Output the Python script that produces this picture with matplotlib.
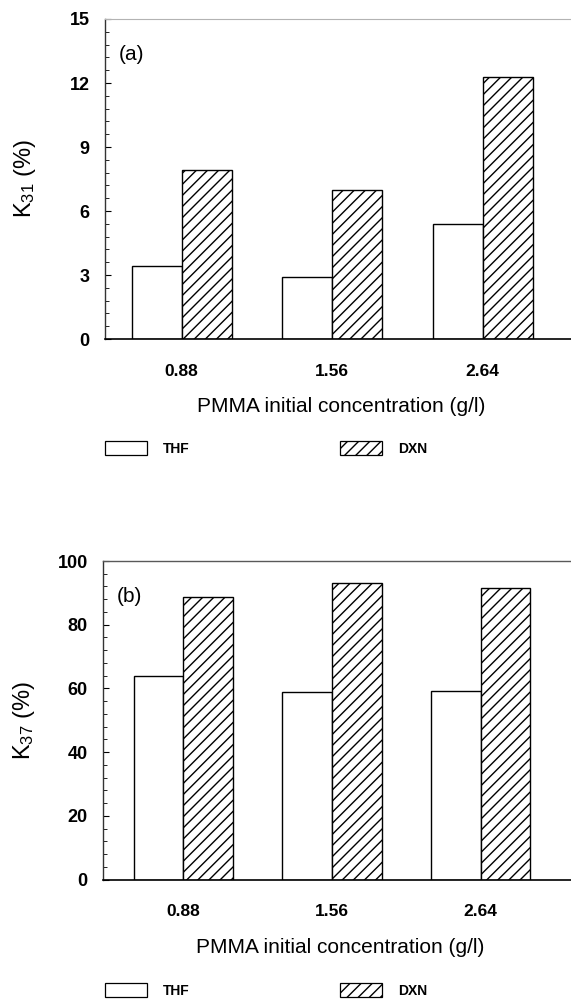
import numpy as np
import matplotlib
matplotlib.use("Agg")
import matplotlib.pyplot as plt
from matplotlib.patches import Patch
from matplotlib.ticker import MultipleLocator, AutoMinorLocator

# PMMA initial concentrations (g/l)
concentrations = ["0.88", "1.56", "2.64"]
solvents = ["THF", "DXN"]

# (a) K31 (%)
k31_thf = [3.4, 2.9, 5.4]
k31_dxn = [7.9, 7.0, 12.3]

# (b) K37 (%)
k37_thf = [63.8, 58.9, 59.1]
k37_dxn = [88.8, 93.2, 91.4]

plt.rcParams["font.family"] = ["Liberation Sans", "DejaVu Sans"]
plt.rcParams["mathtext.fontset"] = "custom"
plt.rcParams["mathtext.rm"] = "Liberation Sans"
plt.rcParams["mathtext.it"] = "Liberation Sans:italic"
plt.rcParams["hatch.linewidth"] = 1.0

W = 571
H = 1001
width = 0.333


def draw_panel(ax, thf, dxn, ylab, tag, ymax, ystep, xlim, ylab_x, xlab_y):
    x = np.arange(len(concentrations))
    ax.bar(x - width / 2, thf, width, color="white", edgecolor="black", linewidth=1.0)
    ax.bar(x + width / 2, dxn, width, color="white", edgecolor="black",
           linewidth=1.0, hatch="///")
    ax.set_xlim(*xlim)
    ax.set_ylim(0, ymax)

    ax.yaxis.set_major_locator(MultipleLocator(ystep))
    ax.yaxis.set_minor_locator(AutoMinorLocator(5))
    ax.tick_params(axis="y", which="major", direction="in", length=4.5,
                   width=0.8, pad=11, labelsize=13)
    ax.tick_params(axis="y", which="minor", direction="in", length=3, width=0.6)
    ax.set_xticks(x)
    ax.set_xticklabels(concentrations)
    ax.tick_params(axis="x", length=0, pad=18, labelsize=12.5)
    for lbl in ax.get_xticklabels() + ax.get_yticklabels():
        lbl.set_fontweight("bold")

    ax.spines["right"].set_visible(False)
    ax.spines["left"].set_color("0.2")
    ax.spines["left"].set_linewidth(1.0)
    ax.spines["bottom"].set_linewidth(1.2)

    ax.set_ylabel(ylab, fontsize=17)
    ax.yaxis.label.set_va("center")
    ax.yaxis.set_label_coords(ylab_x, 0.5)
    ax.set_xlabel("PMMA initial concentration (g/l)", fontsize=15)
    ax.xaxis.label.set_va("center")
    ax.xaxis.set_label_coords(0.507, xlab_y)

    ax.text(0.03, 0.89, tag, transform=ax.transAxes, fontsize=15,
            ha="left", va="center")


def add_legend(ax, x0, y0):
    handles = [
        Patch(facecolor="white", edgecolor="black", linewidth=0.9, label=solvents[0]),
        Patch(facecolor="white", edgecolor="black", linewidth=0.9, hatch="///",
              label=solvents[1]),
    ]
    leg = ax.legend(handles=handles, ncol=2, loc="upper left",
                    bbox_to_anchor=(x0 / W, 1 - y0 / H),
                    bbox_transform=ax.figure.transFigure, frameon=False,
                    borderpad=0, borderaxespad=0, handlelength=3.0,
                    handleheight=1.2, handletextpad=1.2, columnspacing=10.8,
                    prop={"size": 10, "weight": "bold"})
    return leg


fig = plt.figure(figsize=(W / 100, H / 100), dpi=100)

ax_a = fig.add_axes([105 / W, 1 - 339 / H, 1 - 105 / W, 320 / H])
draw_panel(ax_a, k31_thf, k31_dxn, r"K$_{31}$ (%)", "(a)", 15, 3,
           (-0.51, 2.587), -0.172, -0.212)
ax_a.spines["top"].set_color("0.7")
ax_a.spines["top"].set_linewidth(0.8)
add_legend(ax_a, 105, 441)

ax_b = fig.add_axes([103 / W, 1 - 879.5 / H, 1 - 103 / W, 318.5 / H])
draw_panel(ax_b, k37_thf, k37_dxn, r"K$_{37}$ (%)", "(b)", 100, 20,
           (-0.54, 2.607), -0.168, -0.215)
ax_b.spines["top"].set_color("0.35")
ax_b.spines["top"].set_linewidth(1.0)
add_legend(ax_b, 105, 983)

fig.savefig("out.png", dpi=100)
